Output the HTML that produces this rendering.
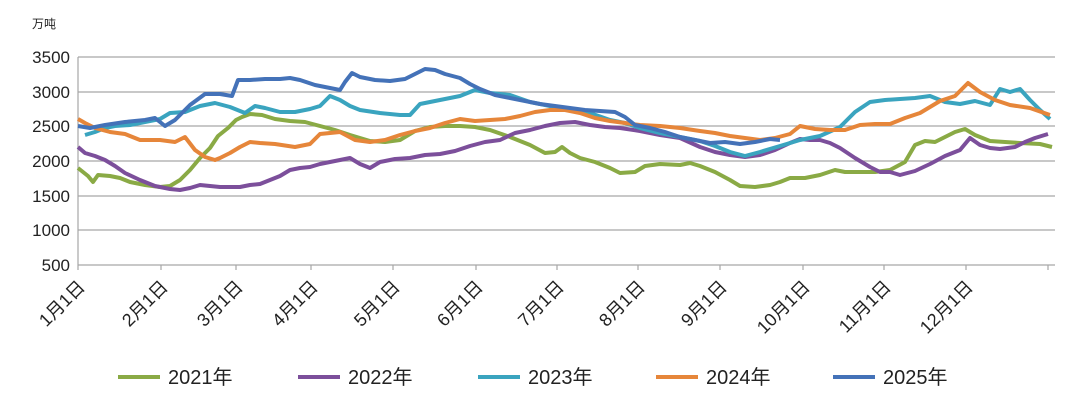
<!DOCTYPE html>
<html><head><meta charset="utf-8"><style>
body{margin:0;background:#fff;width:1080px;height:407px;overflow:hidden}
text{font-family:"Liberation Sans","Noto Sans CJK SC",sans-serif;fill:#222}
</style></head><body>
<svg width="1080" height="407" viewBox="0 0 1080 407">
<text x="32" y="28" font-size="12">万吨</text>
<g stroke="#a6a6a6" stroke-width="1.2">
<line x1="78" y1="57" x2="1055" y2="57"/><line x1="78" y1="92" x2="1055" y2="92"/>
<line x1="78" y1="126" x2="1055" y2="126"/><line x1="78" y1="161" x2="1055" y2="161"/>
<line x1="78" y1="196" x2="1055" y2="196"/><line x1="78" y1="230" x2="1055" y2="230"/>
<line x1="78" y1="265" x2="1055" y2="265"/><line x1="78" y1="57" x2="78" y2="270"/>
<line x1="161" y1="265" x2="161" y2="270"/><line x1="236" y1="265" x2="236" y2="270"/>
<line x1="311" y1="265" x2="311" y2="270"/><line x1="393" y1="265" x2="393" y2="270"/>
<line x1="476" y1="265" x2="476" y2="270"/><line x1="557" y1="265" x2="557" y2="270"/>
<line x1="638" y1="265" x2="638" y2="270"/><line x1="720" y1="265" x2="720" y2="270"/>
<line x1="803" y1="265" x2="803" y2="270"/><line x1="884" y1="265" x2="884" y2="270"/>
<line x1="966" y1="265" x2="966" y2="270"/><line x1="1048" y1="265" x2="1048" y2="270"/>
</g>
<g font-size="17" text-anchor="end">
<text x="70" y="63">3500</text><text x="70" y="98">3000</text><text x="70" y="132">2500</text>
<text x="70" y="167">2000</text><text x="70" y="202">1500</text><text x="70" y="236">1000</text>
<text x="70" y="271">500</text>
</g>
<g font-size="18" text-anchor="end">
<text transform="translate(86,288) rotate(-45)">1月1日</text>
<text transform="translate(169,288) rotate(-45)">2月1日</text>
<text transform="translate(244,288) rotate(-45)">3月1日</text>
<text transform="translate(319,288) rotate(-45)">4月1日</text>
<text transform="translate(401,288) rotate(-45)">5月1日</text>
<text transform="translate(484,288) rotate(-45)">6月1日</text>
<text transform="translate(565,288) rotate(-45)">7月1日</text>
<text transform="translate(646,288) rotate(-45)">8月1日</text>
<text transform="translate(728,288) rotate(-45)">9月1日</text>
<text transform="translate(811,288) rotate(-45)">10月1日</text>
<text transform="translate(892,288) rotate(-45)">11月1日</text>
<text transform="translate(974,288) rotate(-45)">12月1日</text>
</g>
<g fill="none" stroke-width="4" stroke-linejoin="round">
<polyline stroke="#8aaa45" points="78,168 88,176 93,182 98,175 110,176 120,178 130,182 145,185 160,187 170,186 180,180 190,170 200,158 210,148 218,136 228,128 236,120 242,117 250,114 262,115 275,119 290,121 305,122 320,126 335,130 350,135 370,141 385,142 400,140 415,131 430,127 445,126 460,126 475,127 490,130 510,137 530,145 545,153 555,152 562,147 570,153 580,158 595,162 610,168 620,173 635,172 645,166 660,164 680,165 690,163 700,166 715,172 730,180 740,186 755,187 770,185 780,182 790,178 805,178 820,175 835,170 845,172 860,172 875,172 890,170 905,162 915,145 925,141 935,142 945,137 955,132 965,129 975,135 990,141 1005,142 1020,143 1040,144 1052,147"/>
<polyline stroke="#7c4f9b" points="78,147 85,153 95,156 105,160 115,166 125,173 140,180 155,186 170,189 180,190 190,188 200,185 210,186 220,187 230,187 240,187 250,185 260,184 270,180 280,176 290,170 300,168 310,167 320,164 335,161 350,158 360,164 370,168 380,162 395,159 410,158 425,155 440,154 455,151 470,146 485,142 500,140 515,133 530,130 545,126 560,123 575,122 590,125 605,127 620,128 640,131 660,135 680,138 700,147 715,152 730,155 745,157 760,155 775,150 790,143 800,139 810,140 820,140 830,143 840,148 855,158 870,167 880,172 890,172 900,175 915,171 930,164 945,156 960,150 970,138 980,145 990,148 1000,149 1015,147 1025,142 1035,138 1048,134"/>
<polyline stroke="#3aa4bf" points="85,135 95,132 105,128 115,126 130,125 145,122 160,119 170,113 185,112 200,106 215,103 230,107 245,113 255,106 265,108 280,112 295,112 310,109 320,106 330,96 340,100 350,106 360,110 380,113 400,115 410,115 420,104 440,100 460,96 475,90 490,93 510,95 530,102 550,106 570,110 590,113 610,120 625,123 640,128 660,133 680,137 700,141 715,146 730,152 745,156 760,152 780,146 800,140 820,136 840,127 855,112 870,102 885,100 900,99 915,98 930,96 945,102 960,104 975,101 990,105 1000,89 1010,92 1020,89 1030,100 1040,110 1050,119"/>
<polyline stroke="#e6863a" points="78,119 85,123 95,128 110,132 125,134 140,140 160,140 175,142 185,137 195,150 205,157 215,160 220,158 230,153 240,147 250,142 260,143 275,144 295,147 310,144 320,134 340,132 355,140 370,142 385,140 400,135 415,131 430,128 445,123 460,119 475,121 490,120 505,119 520,116 535,112 550,110 565,110 580,113 595,118 610,121 625,123 640,125 660,126 680,128 700,131 715,133 730,136 745,138 760,140 775,138 790,134 800,126 815,129 830,130 845,130 860,125 875,124 890,124 905,118 920,113 940,101 955,96 968,83 980,92 995,100 1010,105 1030,108 1050,115"/>
<polyline stroke="#4472b8" points="78,126 90,128 105,125 125,122 145,120 155,118 165,126 175,120 190,105 205,94 220,94 232,96 238,80 250,80 265,79 280,79 290,78 300,80 315,85 330,88 340,90 345,82 352,73 360,77 375,80 390,81 405,79 415,74 425,69 435,70 445,74 460,78 470,84 480,89 495,95 510,98 525,101 540,104 555,106 570,108 585,110 600,111 615,112 625,117 635,125 650,128 665,132 680,137 695,140 710,143 725,142 740,144 755,142 770,139 780,140"/>
</g>
<g stroke-width="4">
<line x1="118" y1="377" x2="160" y2="377" stroke="#8aaa45"/>
<line x1="298" y1="377" x2="340" y2="377" stroke="#7c4f9b"/>
<line x1="478" y1="377" x2="520" y2="377" stroke="#3aa4bf"/>
<line x1="656" y1="377" x2="698" y2="377" stroke="#e6863a"/>
<line x1="833" y1="377" x2="875" y2="377" stroke="#4472b8"/>
</g>
<g font-size="20">
<text x="168" y="384">2021年</text><text x="348" y="384">2022年</text>
<text x="528" y="384">2023年</text><text x="706" y="384">2024年</text>
<text x="883" y="384">2025年</text>
</g>
</svg>
</body></html>
